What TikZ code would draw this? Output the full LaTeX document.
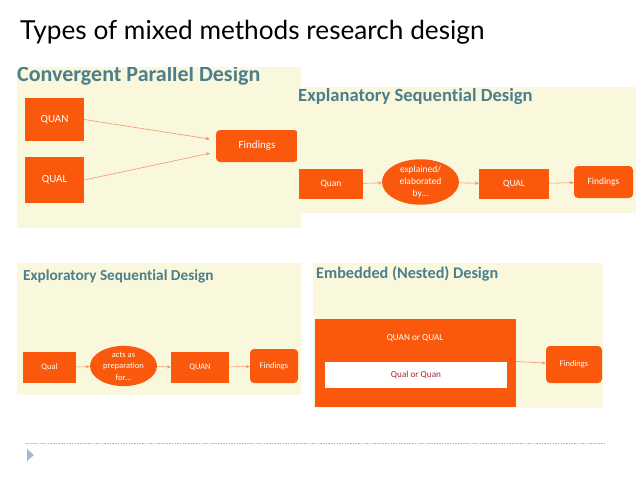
\documentclass[tikz,border=0pt]{standalone}
\usepackage{fontspec}
\setmainfont{Carlito}[Ligatures=NoCommon]
\newfontfamily\titlefont{Lato}
\usetikzlibrary{shapes.geometric,arrows.meta}
\definecolor{boxorange}{RGB}{250,88,12}
\definecolor{panelbg}{RGB}{250,248,220}
\definecolor{linkorange}{RGB}{242,150,110}
\definecolor{headteal}{RGB}{76,126,140}
\definecolor{darkred}{RGB}{170,40,50}
\definecolor{rulegray}{RGB}{165,185,205}
\tikzset{
  panel/.style={fill=panelbg,draw=none},
  obox/.style={fill=boxorange,draw=none,text=white,inner sep=0pt,align=center},
  rbox/.style={obox,rounded corners=4pt},
  oell/.style={ellipse,fill=boxorange,draw=none,text=white,inner sep=0pt,align=center},
  link/.style={draw=linkorange,line width=0.6pt,-{Stealth[length=4pt,width=3.5pt]}},
  ptitle/.style={anchor=base west,text=headteal,inner sep=0pt,font=\bfseries},
}
\begin{document}
\begin{tikzpicture}[x=1pt,y=-1pt]
\useasboundingbox (0,0) rectangle (638,479);
\fill[white] (0,0) rectangle (638,479);
% main title
\node[anchor=base west,inner sep=0pt,font=\titlefont\fontsize{26.2}{30}\selectfont] (maintitle) at (20,39) {Types of mixed methods research design};
% panel 1
\begin{scope}
\clip (17,67) rectangle (301,228);
\fill[panel] (17,67) rectangle (301,228);
\node[ptitle,font=\bfseries\fontsize{22}{24}\selectfont] (t1) at (17,81) {Convergent Parallel Design};
\end{scope}
\begin{scope}[every node/.append style={font=\fontsize{11}{13}\selectfont}]
\node[obox,minimum width=59pt,minimum height=43pt] (quan1) at (54.5,119.5) {QUAN};
\node[obox,minimum width=59pt,minimum height=46pt] (qual1) at (54.5,180) {QUAL};
\node[rbox,minimum width=82pt,minimum height=32pt] (find1) at (257,146) {Findings};
\end{scope}
\draw[link,shorten >=6pt] (quan1.east) -- ([yshift=6pt]find1.west);
\draw[link,shorten >=6pt] (qual1.east) -- ([yshift=-6pt]find1.west);
% panel 2
\fill[panel] (297,87) rectangle (636,213);
\node[ptitle,font=\bfseries\fontsize{18.6}{22}\selectfont] (t2) at (298,101) {Explanatory Sequential Design};
\begin{scope}[every node/.append style={font=\fontsize{9.5}{12}\selectfont}]
\node[obox,minimum width=64pt,minimum height=30pt] (quan2) at (331,184) {Quan};
\node[oell,minimum width=77pt,minimum height=40pt] (ell2) at (420.5,182) {explained/\\elaborated\\by…};
\node[obox,minimum width=70pt,minimum height=30pt] (qual2) at (514,184) {QUAL};
\node[rbox,minimum width=59pt,minimum height=32pt] (find2) at (603.5,182) {Findings};
\end{scope}
\draw[link] (quan2) -- (ell2);
\draw[link] (ell2) -- (qual2);
\draw[link] (qual2) -- (find2);
% panel 3
\fill[panel] (17,263) rectangle (301,395);
\node[ptitle,font=\bfseries\fontsize{15.3}{18}\selectfont] (t3) at (23,280) {Exploratory Sequential Design};
\begin{scope}[every node/.append style={font=\fontsize{8.5}{11.5}\selectfont}]
\node[obox,minimum width=53pt,minimum height=31pt] (qual3) at (49.5,367.5) {Qual};
\node[oell,minimum width=67pt,minimum height=40pt] (ell3) at (123.5,366) {acts as\\preparation\\for…};
\node[obox,minimum width=58pt,minimum height=31pt] (quan3) at (200,367.5) {QUAN};
\node[rbox,minimum width=48pt,minimum height=34pt] (find3) at (274,366) {Findings};
\end{scope}
\draw[link] (qual3) -- (ell3);
\draw[link] (ell3) -- (quan3);
\draw[link] (quan3) -- (find3);
% panel 4
\fill[panel] (313,263) rectangle (603,408);
\node[ptitle,font=\bfseries\fontsize{16.2}{19}\selectfont] (t4) at (316,278) {Embedded (Nested) Design};
\begin{scope}[every node/.append style={font=\fontsize{9.2}{11}\selectfont}]
\node[obox,minimum width=201pt,minimum height=88pt] (big4) at (415.5,363) {};
\node[text=white,inner sep=0pt] (lab4) at (415,338) {QUAN or QUAL};
\node[fill=white,inner sep=0pt,minimum width=182pt,minimum height=26pt,text=darkred] (inner4) at (416,375) {Qual or Quan};
\node[rbox,minimum width=56pt,minimum height=37pt,font=\fontsize{8.5}{11}\selectfont] (find4) at (574,364.5) {Findings};
\end{scope}
\draw[link] ([yshift=1.5pt]big4.east) -- (find4);
% footer
\coordinate (ruleL) at (26,443);
\coordinate (ruleR) at (605,443);
\draw[rulegray,line width=0.5pt,dash pattern=on 1.5pt off 1.2pt] (ruleL) -- (ruleR);
\fill[rulegray] (27,449) -- (34,455) -- (27,461) -- cycle;
\end{tikzpicture}
\end{document}
